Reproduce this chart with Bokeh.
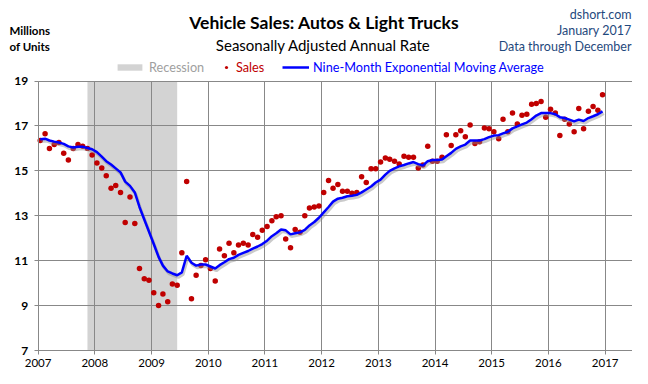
import pandas as pd
from bokeh.plotting import figure
from bokeh.models import (Range1d, FixedTicker, DatetimeTickFormatter, Label, Legend,
                          LegendItem, ColumnDataSource, Grid)
from bokeh.embed import file_html
from bokeh.resources import INLINE

# ---------------- data ----------------
sales_2007 = [16.35, 16.65, 16.00, 16.17, 16.26, 15.78, 15.48, 16.00, 16.17, 16.09, 16.00, 15.70]
sales_2008 = [15.35, 15.13, 14.78, 14.22, 14.35, 14.04, 12.70, 13.83, 12.65, 10.65, 10.20, 10.13]
sales_2009 = [9.57, 9.00, 9.52, 9.17, 9.96, 9.91, 11.35, 14.52, 9.30, 10.35, 10.78, 11.04]
sales_2010 = [10.65, 10.09, 11.52, 11.22, 11.78, 11.35, 11.70, 11.78, 11.70, 12.17, 12.04, 12.35]
sales_2011 = [12.52, 12.78, 12.96, 13.00, 11.96, 11.57, 12.39, 12.26, 13.00, 13.35, 13.39, 13.43]
sales_2012 = [14.04, 14.57, 14.22, 14.39, 14.09, 14.09, 14.00, 14.04, 14.74, 14.48, 15.09, 15.09]
sales_2013 = [15.39, 15.57, 15.52, 15.43, 15.30, 15.65, 15.61, 15.61, 15.13, 15.26, 16.09, 15.43]
sales_2014 = [15.43, 15.61, 16.61, 16.13, 16.61, 16.78, 16.52, 17.04, 16.22, 16.30, 16.91, 16.87]
sales_2015 = [16.74, 16.43, 17.30, 16.74, 17.57, 17.09, 17.48, 17.52, 17.96, 18.00, 18.09, 17.39]
sales_2016 = [17.74, 17.57, 16.57, 17.30, 17.09, 16.74, 17.78, 16.87, 17.65, 17.87, 17.70, 18.39]

ema_2007 = [16.41, 16.43, 16.35, 16.30, 16.26, 16.20, 16.09, 16.04, 16.07, 16.07, 16.02, 15.96]
ema_2008 = [15.83, 15.63, 15.43, 15.28, 15.11, 14.93, 14.52, 14.33, 14.04, 13.39, 12.83, 12.30]
ema_2009 = [11.74, 11.17, 10.78, 10.52, 10.43, 10.35, 10.48, 11.22, 10.91, 10.78, 10.83, 10.83]
ema_2010 = [10.74, 10.65, 10.80, 10.93, 11.07, 11.13, 11.26, 11.35, 11.43, 11.54, 11.63, 11.74]
ema_2011 = [11.89, 12.09, 12.22, 12.39, 12.35, 12.17, 12.22, 12.26, 12.37, 12.57, 12.72, 12.91]
ema_2012 = [13.15, 13.39, 13.63, 13.76, 13.80, 13.87, 13.89, 13.93, 14.04, 14.17, 14.30, 14.48]
ema_2013 = [14.61, 14.83, 15.00, 15.11, 15.20, 15.26, 15.33, 15.39, 15.30, 15.24, 15.43, 15.48]
ema_2014 = [15.48, 15.50, 15.65, 15.80, 15.98, 16.09, 16.17, 16.35, 16.35, 16.35, 16.41, 16.50]
ema_2015 = [16.57, 16.59, 16.67, 16.74, 16.89, 16.98, 17.07, 17.15, 17.30, 17.46, 17.57, 17.57]
ema_2016 = [17.57, 17.52, 17.39, 17.35, 17.28, 17.20, 17.28, 17.22, 17.35, 17.43, 17.52, 17.65]

first_month = "2007-01-01"
recession_start = "2007-11-15"
recession_end = "2009-06-15"

x_tick_years = [2007, 2008, 2009, 2010, 2011, 2012, 2013, 2014, 2015, 2016, 2017]
y_ticks = [7, 9, 11, 13, 15, 17, 19]
y_min, y_max = 7, 19
x_origin, x_last = "2007-01-01", "2017-07-01"

# ---------------- layout constants (pixels inside the 632x368 figure) ----------------
FIG_W, FIG_H = 632, 368
AX_X = 37.6            # where 2007 sits
PX_PER_YEAR = 56.7
Y_BOT, Y_TOP = 350, 80.5   # where y_min / y_max sit
px_per_day = PX_PER_YEAR / 365.25
px_per_unit = (Y_BOT - Y_TOP) / (y_max - y_min)

# ---------------- build ----------------
sales = (sales_2007 + sales_2008 + sales_2009 + sales_2010 + sales_2011 +
         sales_2012 + sales_2013 + sales_2014 + sales_2015 + sales_2016)
ema = (ema_2007 + ema_2008 + ema_2009 + ema_2010 + ema_2011 +
       ema_2012 + ema_2013 + ema_2014 + ema_2015 + ema_2016)
dates = pd.date_range(first_month, periods=len(sales), freq="MS") + pd.Timedelta(days=14)
src = ColumnDataSource(dict(date=dates, sales=sales, ema=ema))

FONT = "Lato"
GRID = "#888888"

x0 = pd.Timestamp(x_origin)
xs = x0 - pd.Timedelta(days=AX_X / px_per_day)
xe = x0 + pd.Timedelta(days=(FIG_W - AX_X) / px_per_day)
ys = y_min - (FIG_H - Y_BOT) / px_per_unit
ye = y_max + Y_TOP / px_per_unit

p = figure(width=FIG_W, height=FIG_H, x_axis_type="datetime", output_backend="svg",
           toolbar_location=None, x_range=Range1d(xs, xe), y_range=Range1d(ys, ye),
           min_border=0, min_border_left=0, min_border_right=0, min_border_top=0,
           min_border_bottom=0)
p.outline_line_color = None
p.background_fill_color = "white"
p.border_fill_color = "white"

# shadow ranges (shift the moving-average shadow ~1px right and ~2px down)
shift_days = 1.2 / px_per_day
shift_units = 2.2 / px_per_unit
p.extra_x_ranges = {"shadow": Range1d(xs - pd.Timedelta(days=shift_days), xe - pd.Timedelta(days=shift_days))}
p.extra_y_ranges = {"shadow": Range1d(ys + shift_units, ye + shift_units)}

to_ms = lambda t: pd.Timestamp(t).value / 1e6
x_ticks = [to_ms(f"{y}-01-01") for y in x_tick_years]

# recession band
rec_src = ColumnDataSource(dict(left=[pd.Timestamp(recession_start)], right=[pd.Timestamp(recession_end)],
                                bottom=[y_min], top=[y_max]))
rec_r = p.quad(left="left", right="right", bottom="bottom", top="top", source=rec_src,
               fill_color="#D3D3D3", line_color=None, level="image")

# grids limited to the plotting area
p.xgrid.ticker = FixedTicker(ticks=x_ticks)
p.ygrid.ticker = FixedTicker(ticks=y_ticks)
if "cross_bounds" in Grid.properties():
    p.xgrid.bounds = (x_ticks[0], x_ticks[-1])
    p.xgrid.cross_bounds = (y_min, y_max)
    p.ygrid.bounds = (y_min, y_max)
    p.ygrid.cross_bounds = (to_ms(x_origin), to_ms(x_last))
    for g in (p.xgrid, p.ygrid):
        g.grid_line_color = GRID
        g.grid_line_width = 1
else:
    p.xgrid.visible = False
    p.ygrid.visible = False
    p.segment(x0=[pd.Timestamp(f"{y}-01-01") for y in x_tick_years], y0=[y_min] * len(x_tick_years),
              x1=[pd.Timestamp(f"{y}-01-01") for y in x_tick_years], y1=[y_max] * len(x_tick_years),
              line_color=GRID, line_width=1, level="underlay")
    p.segment(x0=[x0] * len(y_ticks), y0=y_ticks, x1=[pd.Timestamp(x_last)] * len(y_ticks), y1=y_ticks,
              line_color=GRID, line_width=1, level="underlay")

sales_r = p.scatter("date", "sales", source=src, size=5.5, fill_color="#C00000", line_color=None)
p.line("date", "ema", source=src, x_range_name="shadow", y_range_name="shadow",
       line_color="#8a8a8a", line_alpha=0.45, line_width=3)
ema_r = p.line("date", "ema", source=src, line_color="#0000FF", line_width=2.5)

# axes fixed at 2007 / 7 inside the full-size frame
p.xaxis.ticker = FixedTicker(ticks=x_ticks)
p.xaxis.formatter = DatetimeTickFormatter(years="%Y", months="%Y", days="%Y", hours="%Y")
p.xaxis.fixed_location = y_min
p.xaxis.bounds = (to_ms(x_origin), to_ms(x_last))
p.yaxis.ticker = FixedTicker(ticks=y_ticks)
p.yaxis.fixed_location = to_ms(x_origin)
p.yaxis.bounds = (y_min, y_max)
for ax in (p.xaxis, p.yaxis):
    ax.axis_line_color = GRID
    ax.major_tick_line_color = GRID
    ax.major_tick_out = 4
    ax.major_tick_in = 0
    ax.minor_tick_line_color = None
    ax.major_label_text_font = FONT
    ax.major_label_text_color = "black"
p.xaxis.major_label_text_font_size = "11.5px"
p.xaxis.major_label_standoff = 4
p.yaxis.major_label_text_font_size = "12px"
p.yaxis.major_label_text_font_style = "bold"
p.yaxis.major_label_standoff = 6

# ---------------- texts ----------------
# screen units inside the full-size frame: x = reference x, y = 368 - reference y
def lab(text, ax, ay, size, color="black", bold=False, align="left"):
    p.add_layout(Label(x=ax, y=FIG_H - ay, x_units="screen", y_units="screen", text=text,
                       text_font=FONT, text_font_size=size, text_color=color,
                       text_font_style="bold" if bold else "normal",
                       text_align=align, text_baseline="middle"))

lab("Vehicle Sales: Autos & Light Trucks", 324, 22, "17.5px", bold=True, align="center")
lab("Seasonally Adjusted Annual Rate", 323, 44, "15px", align="center")
lab("Millions", 9, 30, "11.5px", bold=True)
lab("of Units", 9, 46, "11.5px", bold=True)
NAVY = "#1F497D"
lab("dshort.com", 631, 14, "12.5px", color=NAVY, align="right")
lab("January 2017", 631, 30, "12.5px", color=NAVY, align="right")
lab("Data through December", 631, 46, "12.5px", color=NAVY, align="right")

# ---------------- legend (three one-item legends, each with its own text colour) ----------------
def leg(label, renderer, color, ax, gw, gh):
    lg = Legend(items=[LegendItem(label=label, renderers=[renderer])],
                location=(ax, FIG_H - 67 - 8), orientation="horizontal",
                padding=0, margin=0, spacing=0, border_line_color=None,
                background_fill_alpha=0, label_text_font=FONT, label_text_font_size="12.7px",
                label_text_color=color, glyph_width=gw, glyph_height=gh, label_height=gh,
                label_standoff=4)
    p.add_layout(lg, "center")

leg("Recession", rec_r, "#A0A0A0", 114, 31, 8)
leg("Sales", sales_r, "#C00000", 220, 12, 8)
leg("Nine-Month Exponential Moving Average", ema_r, "#0000FF", 282, 27, 8)

open("out.html", "w").write(file_html(p, INLINE))
